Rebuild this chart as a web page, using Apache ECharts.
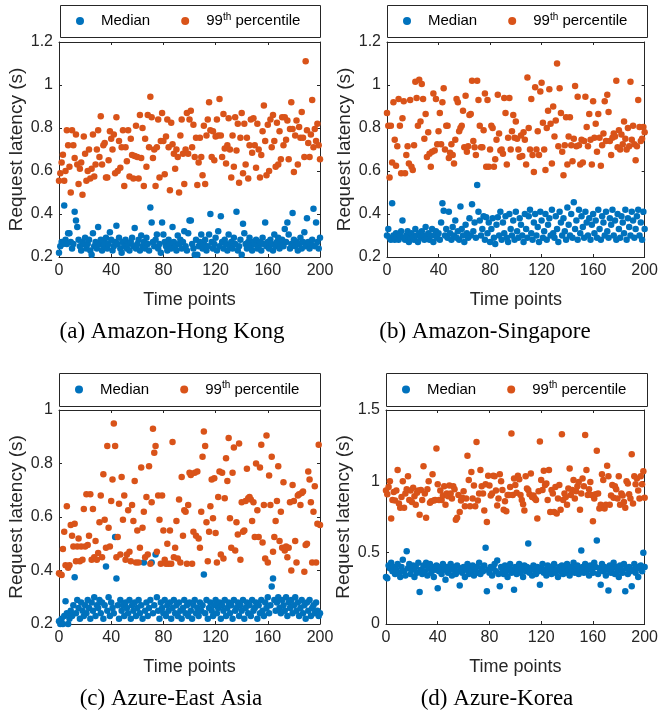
<!DOCTYPE html>
<html>
<head>
<meta charset="utf-8">
<script src="https://cdn.jsdelivr.net/npm/echarts@6/dist/echarts.min.js"></script>
<style>
  html, body { margin: 0; padding: 0; background: #fff; }
  #chart { width: 661px; height: 716px; }
</style>
</head>
<body>
<div id="chart"></div>
<script>
// 时间点刻度
var timeTicks = [0, 40, 80, 120, 160, 200];
var legendNames = ['Median', '99th percentile'];
var captions = ['(a) Amazon-Hong Kong', '(b) Amazon-Singapore', '(c) Azure-East Asia', '(d) Azure-Korea'];

// (a) Amazon-Hong Kong
var medianHK = [0.22, 0.25, 0.27, 0.26, 0.44, 0.28, 0.26, 0.31, 0.31, 0.27,
	0.24, 0.26, 0.41, 0.37, 0.34, 0.28, 0.25, 0.23, 0.27, 0.26,
	0.29, 0.24, 0.26, 0.28, 0.23, 0.21, 0.31, 0.25, 0.27, 0.24,
	0.34, 0.26, 0.28, 0.23, 0.25, 0.27, 0.29, 0.24, 0.26, 0.315,
	0.28, 0.23, 0.25, 0.27, 0.345, 0.26, 0.29, 0.24, 0.22, 0.27,
	0.25, 0.28, 0.24, 0.26, 0.23, 0.27, 0.29, 0.25, 0.335, 0.24,
	0.26, 0.28, 0.23, 0.30, 0.25, 0.27, 0.24, 0.29, 0.26, 0.23,
	0.43, 0.36, 0.27, 0.25, 0.28, 0.305, 0.24, 0.26, 0.22, 0.36,
	0.305, 0.27, 0.25, 0.23, 0.28, 0.26, 0.24, 0.34, 0.27, 0.25,
	0.23, 0.30, 0.26, 0.28, 0.24, 0.27, 0.32, 0.25, 0.23, 0.31,
	0.37, 0.37, 0.26, 0.24, 0.21, 0.28, 0.21, 0.25, 0.27, 0.305,
	0.24, 0.26, 0.28, 0.23, 0.25, 0.305, 0.40, 0.27, 0.24, 0.26,
	0.29, 0.23, 0.32, 0.25, 0.39, 0.27, 0.24, 0.28, 0.26, 0.23,
	0.305, 0.25, 0.27, 0.24, 0.29, 0.26, 0.41, 0.23, 0.25, 0.28,
	0.21, 0.355, 0.31, 0.26, 0.24, 0.27, 0.29, 0.25, 0.23, 0.27,
	0.26, 0.28, 0.24, 0.25, 0.27, 0.23, 0.29, 0.26, 0.36, 0.25,
	0.27, 0.24, 0.28, 0.26, 0.23, 0.305, 0.25, 0.27, 0.29, 0.24,
	0.26, 0.28, 0.25, 0.33, 0.27, 0.36, 0.305, 0.24, 0.26, 0.405,
	0.28, 0.25, 0.27, 0.23, 0.26, 0.29, 0.24, 0.27, 0.315, 0.25,
	0.38, 0.27, 0.24, 0.26, 0.28, 0.425, 0.25, 0.36, 0.27, 0.24,
	0.29];
var p99HK = [0.555, 0.59, 0.64, 0.676, 0.555, 0.60, 0.79, 0.72, 0.62, 0.50,
	0.79, 0.72, 0.66, 0.77, 0.63, 0.54, 0.61, 0.64, 0.49, 0.76,
	0.68, 0.555, 0.60, 0.70, 0.565, 0.61, 0.77, 0.575, 0.63, 0.70,
	0.79, 0.665, 0.855, 0.63, 0.72, 0.73, 0.57, 0.57, 0.65, 0.785,
	0.75, 0.70, 0.77, 0.59, 0.85, 0.60, 0.74, 0.615, 0.71, 0.79,
	0.53, 0.71, 0.645, 0.79, 0.575, 0.75, 0.675, 0.565, 0.67, 0.81,
	0.665, 0.565, 0.86, 0.66, 0.80, 0.53, 0.75, 0.62, 0.86, 0.71,
	0.945, 0.85, 0.66, 0.70, 0.53, 0.71, 0.84, 0.57, 0.74, 0.87,
	0.74, 0.585, 0.76, 0.84, 0.71, 0.51, 0.825, 0.725, 0.68, 0.61,
	0.70, 0.665, 0.50, 0.765, 0.84, 0.68, 0.54, 0.70, 0.87, 0.68,
	0.84,
	0.88, 0.71, 0.815, 0.665, 0.755, 0.535, 0.64, 0.755, 0.665, 0.58,
	0.81, 0.54, 0.765, 0.84, 0.92, 0.79, 0.665, 0.785, 0.65, 0.76,
	0.84, 0.765, 0.935, 0.765, 0.665, 0.865, 0.705, 0.635, 0.72, 0.845,
	0.70, 0.57, 0.765, 0.62, 0.85, 0.695, 0.82, 0.545, 0.755, 0.87,
	0.59, 0.82, 0.63, 0.755, 0.565, 0.72, 0.84, 0.685, 0.845, 0.72,
	0.615, 0.82, 0.70, 0.57, 0.675, 0.785, 0.905, 0.74, 0.58, 0.815,
	0.60, 0.84, 0.71, 0.86, 0.74, 0.62, 0.825, 0.63, 0.785, 0.655,
	0.85, 0.72, 0.85, 0.745, 0.835, 0.655, 0.795, 0.92, 0.795, 0.595,
	0.765, 0.835, 0.63, 0.805, 0.755, 0.875, 0.755, 0.665, 1.11, 0.79,
	0.73, 0.665, 0.77, 0.93, 0.71, 0.795, 0.74, 0.82, 0.72, 0.655];

// (b) Amazon-Singapore
var medianSG = [0.30, 0.33, 0.29, 0.28, 0.45, 0.30, 0.28, 0.31, 0.29, 0.28,
	0.30, 0.32, 0.37, 0.29, 0.28, 0.30, 0.32, 0.27, 0.29, 0.31,
	0.29, 0.28, 0.33, 0.30, 0.27, 0.31, 0.29, 0.32, 0.30, 0.28,
	0.34, 0.29, 0.31, 0.28, 0.30, 0.33, 0.27, 0.30, 0.32, 0.29,
	0.31, 0.28, 0.36, 0.45, 0.415, 0.30, 0.33, 0.29, 0.41, 0.31,
	0.28, 0.34, 0.30, 0.37, 0.29, 0.32, 0.28, 0.435, 0.33, 0.30,
	0.27, 0.35, 0.31, 0.29, 0.38, 0.30, 0.445, 0.32, 0.36, 0.29,
	0.535, 0.41, 0.37, 0.30, 0.33, 0.39, 0.28, 0.385, 0.31, 0.36,
	0.27, 0.33, 0.38, 0.29, 0.26, 0.35, 0.385, 0.30, 0.41, 0.28,
	0.36, 0.31, 0.39, 0.29, 0.27, 0.40, 0.33, 0.30, 0.37, 0.28,
	0.41, 0.32, 0.29, 0.38, 0.35, 0.30, 0.27, 0.40, 0.33, 0.29,
	0.39, 0.42, 0.31, 0.28, 0.36, 0.40, 0.30, 0.34, 0.27, 0.41,
	0.37, 0.29, 0.32, 0.40, 0.28, 0.35, 0.38, 0.30, 0.42, 0.31,
	0.29, 0.39, 0.33, 0.27, 0.41, 0.36, 0.30, 0.38, 0.32, 0.28,
	0.43, 0.35, 0.30, 0.40, 0.29, 0.455, 0.33, 0.37, 0.28, 0.42,
	0.31, 0.39, 0.34, 0.29, 0.41, 0.36, 0.30, 0.38, 0.28, 0.35,
	0.40, 0.31, 0.37, 0.29, 0.42, 0.33, 0.28, 0.39, 0.36, 0.30,
	0.41, 0.32, 0.29, 0.38, 0.35, 0.42, 0.30, 0.37, 0.28, 0.40,
	0.33, 0.29, 0.39, 0.36, 0.31, 0.42, 0.28, 0.38, 0.34, 0.30,
	0.41, 0.37, 0.29, 0.33, 0.39, 0.42, 0.30, 0.36, 0.28, 0.41,
	0.33];
var p99SG = [0.87, 0.81, 0.57, 0.81, 0.64, 0.92, 0.745, 0.625, 0.715, 0.935,
	0.81, 0.59, 0.845, 0.925, 0.59, 0.675, 0.715, 0.635, 0.93, 0.62,
	0.605, 0.72, 1.015, 0.94, 0.81, 1.025, 0.83, 1.005, 0.935, 0.75,
	0.865, 0.665, 0.78, 0.68, 0.62, 0.69, 0.96, 0.695, 0.935, 0.725,
	0.785, 0.87, 0.725, 0.92, 0.985, 0.70, 0.81, 0.81, 0.66, 0.685,
	0.725, 0.675, 0.635, 0.745, 0.935, 0.92, 0.785, 0.80, 0.81, 0.88,
	0.71, 0.95, 0.69, 0.715, 0.86, 0.865, 1.02, 0.74, 0.71, 0.675,
	1.02, 0.93, 0.81, 0.71, 0.71, 0.79, 0.96, 0.62, 0.93, 0.62,
	0.70, 0.81, 0.80, 0.62, 0.655, 0.745, 0.955, 0.775, 0.695,
	0.70, 0.68, 0.94, 0.87, 0.63, 0.755, 0.94, 0.70, 0.785, 0.86,
	0.755, 0.83, 0.75, 0.70, 0.665, 0.765, 0.67, 0.78, 0.745, 0.63,
	1.035, 0.80, 0.70, 0.935, 0.675, 0.595, 0.99, 0.70, 0.785, 0.675,
	0.97, 1.01, 0.825, 0.70, 0.605, 0.80, 0.88, 0.98, 0.82, 0.635,
	0.90, 0.76, 0.835, 1.10, 0.715, 0.985, 0.87, 0.69, 0.58, 0.72,
	0.85, 0.63, 0.76, 0.85, 0.72, 0.645, 0.75, 0.995, 0.715, 0.945,
	0.72, 0.63, 0.745, 0.64, 0.74, 0.945, 0.805, 0.715, 0.865, 0.745,
	0.63, 0.925, 0.755, 0.82, 0.69, 0.865, 0.755, 0.625, 0.72, 0.775,
	0.925, 0.74, 0.955, 0.875, 0.74, 0.675, 0.755, 0.775, 0.76, 1.02,
	0.71, 0.79, 0.70, 0.77, 0.725, 0.83, 0.75, 0.70, 0.80, 0.715,
	1.015, 0.745, 0.81, 0.725, 0.65, 0.715, 0.93, 0.805, 0.74, 0.75,
	0.805, 0.78];

// (c) Azure-East Asia
var medianEA = [0.21, 0.20, 0.22, 0.20, 0.23, 0.285, 0.24, 0.20, 0.22, 0.25,
	0.23, 0.27, 0.375, 0.24, 0.29, 0.26, 0.22, 0.28, 0.25, 0.23,
	0.27, 0.24, 0.29, 0.26, 0.22, 0.28, 0.25, 0.30, 0.23, 0.27,
	0.26, 0.29, 0.24, 0.28, 0.22, 0.27, 0.415, 0.25, 0.30, 0.23,
	0.28, 0.26, 0.24, 0.525, 0.37, 0.27, 0.22, 0.29, 0.25, 0.27,
	0.23, 0.28, 0.26, 0.24, 0.29, 0.22, 0.27, 0.25, 0.28, 0.23,
	0.26, 0.29, 0.24, 0.27, 0.22, 0.43, 0.25, 0.28, 0.23, 0.26,
	0.29, 0.43, 0.24, 0.27, 0.46, 0.30, 0.25, 0.22, 0.28, 0.26,
	0.24, 0.29, 0.23, 0.27, 0.25, 0.28, 0.22, 0.26, 0.29, 0.24,
	0.27, 0.23, 0.28, 0.25, 0.22, 0.26, 0.29, 0.24, 0.27, 0.23,
	0.28, 0.25, 0.22, 0.27, 0.29, 0.24, 0.26, 0.23, 0.28, 0.25,
	0.27, 0.385, 0.24, 0.29, 0.22, 0.26, 0.28, 0.25, 0.23, 0.27,
	0.29, 0.24, 0.26, 0.28, 0.22, 0.27, 0.25, 0.29, 0.23, 0.26,
	0.28, 0.24, 0.27, 0.22, 0.29, 0.25, 0.26, 0.28, 0.23, 0.27,
	0.25, 0.29, 0.22, 0.26, 0.28, 0.24, 0.27, 0.23, 0.29, 0.25,
	0.26, 0.28, 0.22, 0.27, 0.24, 0.29, 0.25, 0.23, 0.28, 0.26,
	0.30, 0.24, 0.27, 0.34, 0.37, 0.29, 0.25, 0.28, 0.30, 0.26,
	0.24, 0.29, 0.27, 0.25, 0.30, 0.23, 0.28, 0.26, 0.29, 0.24,
	0.27, 0.30, 0.25, 0.28, 0.23, 0.26, 0.29, 0.24, 0.27, 0.22,
	0.28, 0.25, 0.29, 0.23, 0.26, 0.27, 0.24, 0.28, 0.25, 0.23,
	0.24];
var p99EA = [0.39, 0.386, 0.383, 0.48, 0.545, 0.42, 0.64, 0.41, 0.42, 0.57,
	0.53, 0.49, 0.575, 0.435, 0.49, 0.52, 0.435, 0.49, 0.44, 0.63,
	0.49, 0.685, 0.495, 0.53, 0.685, 0.44, 0.63, 0.45, 0.51, 0.44,
	0.465, 0.58, 0.68, 0.45, 0.76, 0.59, 0.485, 0.865, 0.56, 0.49,
	0.66, 0.74, 0.95, 0.865, 0.45, 0.525, 0.65, 0.46, 0.75, 0.59,
	0.68, 0.44, 0.46, 0.625, 0.47, 0.435, 0.645, 0.585, 0.735, 0.43,
	0.55, 0.43, 0.485, 0.785, 0.56, 0.62, 0.45, 0.675, 0.46, 0.79,
	0.425, 0.655, 0.93, 0.84, 0.865, 0.47, 0.68, 0.59, 0.425, 0.68,
	0.55, 0.44, 0.425, 0.50, 0.425, 0.55, 0.425, 0.88, 0.45, 0.485,
	0.585, 0.445, 0.665, 0.43, 0.75, 0.53, 0.625, 0.62, 0.425, 0.645,
	0.765,
	0.757, 0.425, 0.545, 0.765, 0.53, 0.77, 0.52, 0.485, 0.62, 0.825,
	0.92, 0.865, 0.58, 0.435, 0.545, 0.64, 0.74, 0.595, 0.745, 0.54,
	0.43, 0.675, 0.77, 0.46, 0.765, 0.445, 0.67, 0.82, 0.735, 0.895,
	0.595, 0.485, 0.765, 0.86, 0.475, 0.58, 0.535, 0.875, 0.44, 0.655,
	0.545, 0.55, 0.66, 0.78, 0.67, 0.675, 0.665, 0.585, 0.655, 0.525,
	0.80, 0.625, 0.525, 0.785, 0.87, 0.505, 0.645, 0.445, 0.905, 0.43,
	0.755, 0.645, 0.825, 0.47, 0.525, 0.585, 0.66, 0.79, 0.51, 0.62,
	0.485, 0.73, 0.475, 0.49, 0.45, 0.485, 0.655, 0.40, 0.72, 0.66,
	0.51, 0.43, 0.68, 0.685, 0.645, 0.69, 0.695, 0.395, 0.495, 0.50,
	0.77, 0.74, 0.655, 0.43, 0.62, 0.715, 0.43, 0.575, 0.87, 0.57];

// (d) Azure-Korea
var medianKR = [0.33, 0.32, 0.41, 0.39, 0.43, 0.37, 0.40, 0.35, 0.38, 0.42,
	0.36, 0.33, 0.40, 0.45, 0.37, 0.34, 0.51, 0.39, 0.42, 0.35,
	0.38, 0.41, 0.33, 0.40, 0.36, 0.43, 0.225, 0.38, 0.35, 0.41,
	0.37, 0.43, 0.34, 0.39, 0.42, 0.36, 0.40, 0.33, 0.38, 0.41,
	0.25, 0.37, 0.40, 0.35, 0.42, 0.38, 0.31, 0.40, 0.36, 0.39,
	0.42, 0.34, 0.38, 0.40, 0.35, 0.41, 0.37, 0.27, 0.39, 0.36,
	0.40, 0.33, 0.38, 0.42, 0.35, 0.39, 0.37, 0.41, 0.34, 0.38,
	0.40, 0.36, 0.43, 0.35, 0.39, 0.37, 0.41, 0.535, 0.23, 0.38,
	0.36, 0.40, 0.34, 0.39, 0.42, 0.37, 0.445, 0.35, 0.265, 0.40,
	0.38, 0.35, 0.41, 0.37, 0.33, 0.39, 0.42, 0.36, 0.38, 0.24,
	0.40, 0.35, 0.38, 0.42, 0.36, 0.39, 0.33, 0.41, 0.37, 0.40,
	0.565, 0.36, 0.39, 0.34, 0.41, 0.38, 0.35, 0.40, 0.37, 0.275,
	0.39, 0.42, 0.36, 0.38, 0.34, 0.41, 0.37, 0.40, 0.35, 0.39,
	0.42, 0.36, 0.38, 0.33, 0.40, 0.37, 0.41, 0.35, 0.39, 0.36,
	0.42, 0.38, 0.34, 0.40, 0.37, 0.43, 0.36, 0.39, 0.41, 0.35,
	0.38, 0.515, 0.40, 0.36, 0.42, 0.37, 0.39, 0.34, 0.41, 0.38,
	0.36, 0.43, 0.40, 0.585, 0.35, 0.39, 0.275, 0.42, 0.37, 0.40,
	0.34, 0.38, 0.235, 0.41, 0.36, 0.39, 0.43, 0.35, 0.40, 0.37,
	0.33, 0.41, 0.38, 0.36, 0.42, 0.23, 0.39, 0.35, 0.40, 0.37,
	0.265, 0.38, 0.42, 0.36, 0.40, 0.33, 0.39, 0.41, 0.37, 0.50,
	0.40];
var p99KR = [0.935, 0.91, 0.96, 1.0, 0.74, 0.87, 0.925, 0.865, 0.935, 1.08,
	0.845, 0.815, 0.89, 1.0, 0.815, 0.915, 0.945, 1.035, 0.87, 0.935,
	0.855, 0.955, 0.895, 0.835, 0.92, 0.935, 0.765, 0.94, 0.87, 1.105,
	0.915, 0.745, 0.945, 1.0, 0.85, 0.86, 1.05, 0.865, 0.87, 1.23,
	0.98, 0.87, 0.935, 0.87, 0.90, 0.965, 0.835, 0.915, 0.895, 0.97,
	0.915, 0.88, 0.965, 0.945, 0.73, 0.745, 0.905, 0.785, 0.865, 0.885,
	0.93, 0.825, 0.88, 1.18, 1.01, 0.825, 1.065, 0.88, 0.97, 0.825,
	1.275, 0.865, 0.915, 1.08, 0.965, 0.915, 0.795, 0.98, 0.715, 1.04,
	0.97, 0.90, 0.915, 1.04, 1.035, 0.935, 0.83, 0.88, 1.05,
	1.0, 0.94, 0.80, 0.86, 0.79, 0.905, 0.905, 0.96, 1.335, 0.905,
	1.02, 0.975, 0.92, 1.04, 1.015, 0.905, 0.87, 0.84, 0.795, 1.035,
	0.95, 0.94, 0.91, 1.055, 0.89, 0.90, 0.88, 0.87, 0.74, 0.93,
	1.28, 1.01, 0.94, 1.075, 0.975, 0.985, 0.87, 1.08, 0.785, 0.94,
	0.915, 0.785, 0.96, 0.775, 0.88, 0.975, 0.80, 1.33, 0.87, 0.915,
	0.89, 0.835, 0.95, 1.09, 0.905, 0.94, 1.01, 0.88, 0.93, 0.965,
	0.995, 0.80, 0.915, 1.02, 0.965, 1.325, 1.08, 0.905, 0.945, 0.995,
	0.905, 0.72, 0.88, 0.91, 1.215, 0.915, 0.81, 0.835, 1.05, 1.01,
	0.81, 0.835, 1.11, 1.035, 0.835, 0.90, 0.975, 0.885, 0.965, 0.945,
	0.88, 1.035, 0.835, 0.915, 0.90, 0.855, 0.815, 1.0, 0.985, 0.91,
	0.88, 1.19, 0.845, 1.035, 0.98, 1.02, 0.935, 0.88, 1.035, 0.98,
	1.07, 0.885];

var axisColor = '#262626';
var sansFont = 'Liberation Sans';

var panels = [
	{ median: medianHK, p99: p99HK, yMin: 0.2, yMax: 1.2, yStep: 0.2,
	  grid: { left: 59, top: 42, width: 261, height: 215 }, box: [60, 5, 260, 32], cap: [172, 332] },
	{ median: medianSG, p99: p99SG, yMin: 0.2, yMax: 1.2, yStep: 0.2,
	  grid: { left: 387, top: 42, width: 260, height: 215 }, box: [387, 5, 260, 32], cap: [485, 332] },
	{ median: medianEA, p99: p99EA, yMin: 0.2, yMax: 1.0, yStep: 0.2,
	  grid: { left: 59, top: 410, width: 261, height: 214 }, box: [59, 373, 261, 33], cap: [171, 699] },
	{ median: medianKR, p99: p99KR, yMin: 0, yMax: 1.5, yStep: 0.5,
	  grid: { left: 386, top: 410, width: 261, height: 214 }, box: [386, 373, 261, 33], cap: [497, 699] }
];

function toPoints(arr) {
	return arr.map(function(v, i) { return [i, v]; });
}

var lineStyle = { color: axisColor, width: 1 };
var grids = [], xAxes = [], yAxes = [], series = [], legends = [], graphics = [];

panels.forEach(function(p, k) {
	grids.push(p.grid);
	// 底部 x 轴
	xAxes.push({
		gridIndex: k, type: 'value', min: timeTicks[0], max: timeTicks[timeTicks.length - 1], interval: 40,
		axisLine: { show: true, onZero: false, lineStyle: lineStyle },
		axisTick: { show: true, inside: true, length: 3, lineStyle: lineStyle },
		axisLabel: { color: axisColor, fontSize: 16, fontFamily: sansFont, margin: 6 },
		splitLine: { show: false },
		name: 'Time points', nameLocation: 'middle', nameGap: 34,
		nameTextStyle: { color: axisColor, fontSize: 18, fontFamily: sansFont }
	});
	// 顶部 x 轴 (只画刻度)
	xAxes.push({
		gridIndex: k, type: 'value', position: 'top', min: 0, max: 200, interval: 40,
		axisLine: { show: true, onZero: false, lineStyle: lineStyle },
		axisTick: { show: true, inside: true, length: 3, lineStyle: lineStyle },
		axisLabel: { show: false }, splitLine: { show: false }
	});
	yAxes.push({
		gridIndex: k, type: 'value', min: p.yMin, max: p.yMax, interval: p.yStep,
		axisLine: { show: true, onZero: false, lineStyle: lineStyle },
		axisTick: { show: true, inside: true, length: 3, lineStyle: lineStyle },
		axisLabel: { color: axisColor, fontSize: 16, fontFamily: sansFont, margin: 6,
			formatter: function(v) { return String(+v.toFixed(1)); } },
		splitLine: { show: false },
		name: 'Request latency (s)', nameLocation: 'middle', nameGap: 33, nameRotate: 90,
		nameTextStyle: { color: axisColor, fontSize: 19, fontFamily: sansFont }
	});
	yAxes.push({
		gridIndex: k, type: 'value', position: 'right', min: p.yMin, max: p.yMax, interval: p.yStep,
		axisLine: { show: true, onZero: false, lineStyle: lineStyle },
		axisTick: { show: true, inside: true, length: 3, lineStyle: lineStyle },
		axisLabel: { show: false }, splitLine: { show: false }
	});
	series.push({
		type: 'scatter', name: legendNames[0], xAxisIndex: 2 * k, yAxisIndex: 2 * k,
		symbolSize: 6.5, itemStyle: { color: '#0072BD', opacity: 1 },
		data: toPoints(p.median)
	});
	series.push({
		type: 'scatter', name: legendNames[1], xAxisIndex: 2 * k, yAxisIndex: 2 * k,
		symbolSize: 6.5, itemStyle: { color: '#D95319', opacity: 1 },
		data: toPoints(p.p99)
	});
	legends.push({
		data: legendNames, left: p.box[0] + 16, top: p.box[1] + p.box[3] / 2 - 9,
		padding: 0, itemWidth: 8, itemHeight: 8, itemGap: 31, icon: 'circle',
		selectedMode: false,
		formatter: function(name) {
			return name === legendNames[1] ? '{n|99}{s|th}{n| percentile}' : '{n|' + name + '}';
		},
		textStyle: {
			padding: [0, 0, 0, 12],
			rich: {
				n: { fontSize: 15, fontFamily: sansFont, color: '#000', lineHeight: 18 },
				s: { fontSize: 10, fontFamily: sansFont, color: '#000', lineHeight: 18, padding: [0, 0, 8, 0] }
			}
		}
	});
	// 图例边框
	graphics.push({
		type: 'rect', z: 0, silent: true,
		shape: { x: p.box[0] + 0.5, y: p.box[1] + 0.5, width: p.box[2], height: p.box[3] },
		style: { fill: null, stroke: axisColor, lineWidth: 1 }
	});
	// 子图标题
	graphics.push({
		type: 'text', silent: true, x: p.cap[0], y: p.cap[1],
		style: { text: captions[k], fill: '#000', font: '23px "Liberation Serif"',
			textAlign: 'center', textVerticalAlign: 'middle' }
	});
});

var myChart = echarts.init(document.getElementById('chart'));
var option = {
	animation: false,
	backgroundColor: '#fff',
	grid: grids,
	xAxis: xAxes,
	yAxis: yAxes,
	legend: legends,
	graphic: graphics,
	series: series
};
myChart.setOption(option);
</script>
</body>
</html>
